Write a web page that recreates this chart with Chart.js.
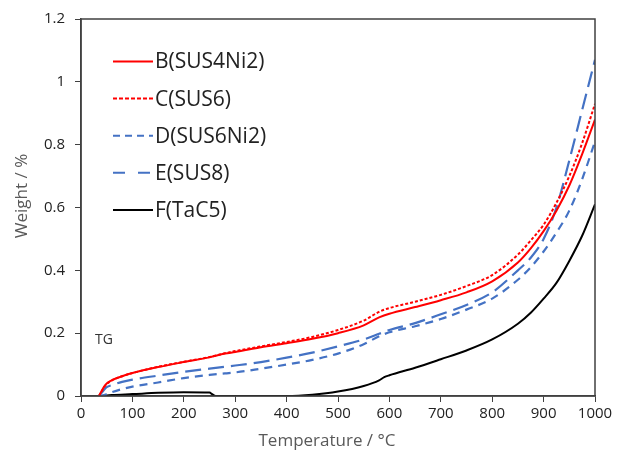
<!DOCTYPE html>
<html>
<head>
<meta charset="utf-8">
<script src="https://cdn.jsdelivr.net/npm/chart.js@4"></script>
<style>
  html, body { margin: 0; padding: 0; background: #fff; }
  #wrap { width: 620px; height: 453px; position: relative; }
</style>
</head>
<body>
<div id="wrap"><canvas id="tg-chart"></canvas></div>
<script>
// temperatures (°C) shared by B..E
var temps = [35, 45, 50, 60, 80, 100, 150, 200, 250, 280, 300, 350, 400, 450, 500, 550, 580, 600, 650, 700, 750, 800, 850, 875, 900, 925, 950, 975, 1000];

var weightB = [0, 0.03, 0.04, 0.05, 0.063, 0.073, 0.092, 0.108, 0.123, 0.135, 0.14, 0.155, 0.168, 0.182, 0.2, 0.225, 0.25, 0.262, 0.283, 0.305, 0.33, 0.365, 0.425, 0.47, 0.525, 0.59, 0.67, 0.77, 0.88];
var weightC = [0, 0.028, 0.038, 0.05, 0.063, 0.073, 0.093, 0.109, 0.124, 0.136, 0.143, 0.158, 0.172, 0.188, 0.21, 0.24, 0.268, 0.28, 0.3, 0.322, 0.35, 0.385, 0.45, 0.495, 0.545, 0.615, 0.7, 0.805, 0.93];
var weightD = [0, 0.003, 0.006, 0.012, 0.022, 0.03, 0.043, 0.057, 0.067, 0.072, 0.075, 0.087, 0.1, 0.115, 0.135, 0.165, 0.19, 0.203, 0.222, 0.245, 0.275, 0.31, 0.37, 0.41, 0.46, 0.52, 0.59, 0.69, 0.81];
var weightE = [0, 0.02, 0.028, 0.035, 0.045, 0.052, 0.065, 0.077, 0.087, 0.093, 0.097, 0.108, 0.122, 0.138, 0.158, 0.18, 0.198, 0.21, 0.232, 0.26, 0.29, 0.33, 0.4, 0.44, 0.5, 0.6, 0.75, 0.91, 1.07];

// F has its own sampling (flat at 0 between the two parts)
var tempsF = [40, 60, 100, 150, 200, 250, 255, 262, 400, 450, 500, 550, 580, 590, 600, 650, 700, 750, 800, 850, 875, 900, 925, 950, 975, 1000];
var weightF = [0, 0.003, 0.006, 0.01, 0.012, 0.011, 0.006, 0, 0, 0.004, 0.014, 0.032, 0.05, 0.06, 0.066, 0.09, 0.117, 0.145, 0.18, 0.23, 0.265, 0.31, 0.36, 0.43, 0.51, 0.61];

var xTicks = [0, 100, 200, 300, 400, 500, 600, 700, 800, 900, 1000];
var yTicks = [0, 0.2, 0.4, 0.6, 0.8, 1, 1.2];

var seriesNames = ["B(SUS4Ni2)", "C(SUS6)", "D(SUS6Ni2)", "E(SUS8)", "F(TaC5)"];

function pts(xs, ys) {
  return xs.map(function (x, i) { return { x: x, y: ys[i] }; });
}

var RED = "#ff0000";
var BLUE = "#4472c4";

// legend inside the plot, axis titles, "TG" note and frame
var extras = {
  id: "extras",
  afterDraw: function (chart) {
    var c = chart.ctx;
    var x0 = 113, y0 = 61.5, gap = 37.1;
    c.save();
    c.font = "21px 'Open Sans'";
    c.textBaseline = "middle";
    chart.data.datasets.forEach(function (ds, i) {
      var y = y0 + i * gap;
      c.strokeStyle = ds.borderColor;
      c.lineWidth = 2;
      c.setLineDash(ds.legendDash || []);
      c.beginPath();
      c.moveTo(x0, y);
      c.lineTo(x0 + 40, y);
      c.stroke();
      c.setLineDash([]);
      c.fillStyle = "#222";
      c.fillText(ds.label, x0 + 42, y + 1);
    });
    c.fillStyle = "#333";
    c.font = "14px 'Open Sans'";
    c.fillText("TG", 95, 340);

    c.fillStyle = "#595959";
    c.font = "17px 'Open Sans'";
    c.textAlign = "center";
    c.fillText("Temperature / °C", 327, 441);
    c.translate(22, 196);
    c.rotate(-Math.PI / 2);
    c.fillText("Weight / %", 0, 0);
    c.setTransform(1, 0, 0, 1, 0, 0);

    var a = chart.chartArea;
    c.strokeStyle = "#404040";
    c.lineWidth = 1.5;
    c.strokeRect(a.left, a.top, a.right - a.left, a.bottom - a.top);
    c.restore();
  }
};

const ctx = document.getElementById("tg-chart");

new Chart(ctx, {
  type: "line",
  data: {
    datasets: [
      { label: seriesNames[0], data: pts(temps, weightB), borderColor: RED, borderWidth: 2 },
      { label: seriesNames[1], data: pts(temps, weightC), borderColor: RED, borderWidth: 2, borderDash: [3, 2], legendDash: [4, 2] },
      { label: seriesNames[2], data: pts(temps, weightD), borderColor: BLUE, borderWidth: 2.2, borderDash: [8, 6], legendDash: [7, 5] },
      { label: seriesNames[3], data: pts(temps, weightE), borderColor: BLUE, borderWidth: 2.2, borderDash: [16, 7], legendDash: [12, 13] },
      { label: seriesNames[4], data: pts(tempsF, weightF), borderColor: "#000", borderWidth: 2 },
    ],
  },
  plugins: [extras],
  options: {
    responsive: true,
    maintainAspectRatio: false,
    animation: false,
    layout: { padding: { top: 16, right: 25, left: 0, bottom: 0 } },
    elements: {
      point: { radius: 0 },
      line: { cubicInterpolationMode: "monotone", fill: false },
    },
    plugins: {
      legend: { display: false },
      tooltip: { enabled: false },
    },
    scales: {
      x: {
        type: "linear",
        min: 0,
        max: 1000,
        afterBuildTicks: function (s) { s.ticks = xTicks.map(function (v) { return { value: v }; }); },
        afterFit: function (s) { s.height = 57; },
        grid: { display: true, drawOnChartArea: false, drawTicks: true, tickLength: 6, color: "#404040" },
        border: { display: true, color: "#404040", width: 1.5 },
        ticks: { color: "#222", font: { family: "Open Sans", size: 15 }, padding: 3, maxRotation: 0,
          callback: function (v) { return String(v); } },
      },
      y: {
        min: 0,
        max: 1.2,
        afterBuildTicks: function (s) { s.ticks = yTicks.map(function (v) { return { value: v }; }); },
        afterFit: function (s) { s.width = 81; },
        grid: { display: true, drawOnChartArea: false, drawTicks: true, tickLength: 6, color: "#404040" },
        border: { display: true, color: "#404040", width: 1.5 },
        ticks: { color: "#222", font: { family: "Open Sans", size: 15 }, padding: 10,
          callback: function (v) { return String(Math.round(v * 10) / 10); } },
      },
    },
  },
});
</script>
</body>
</html>
